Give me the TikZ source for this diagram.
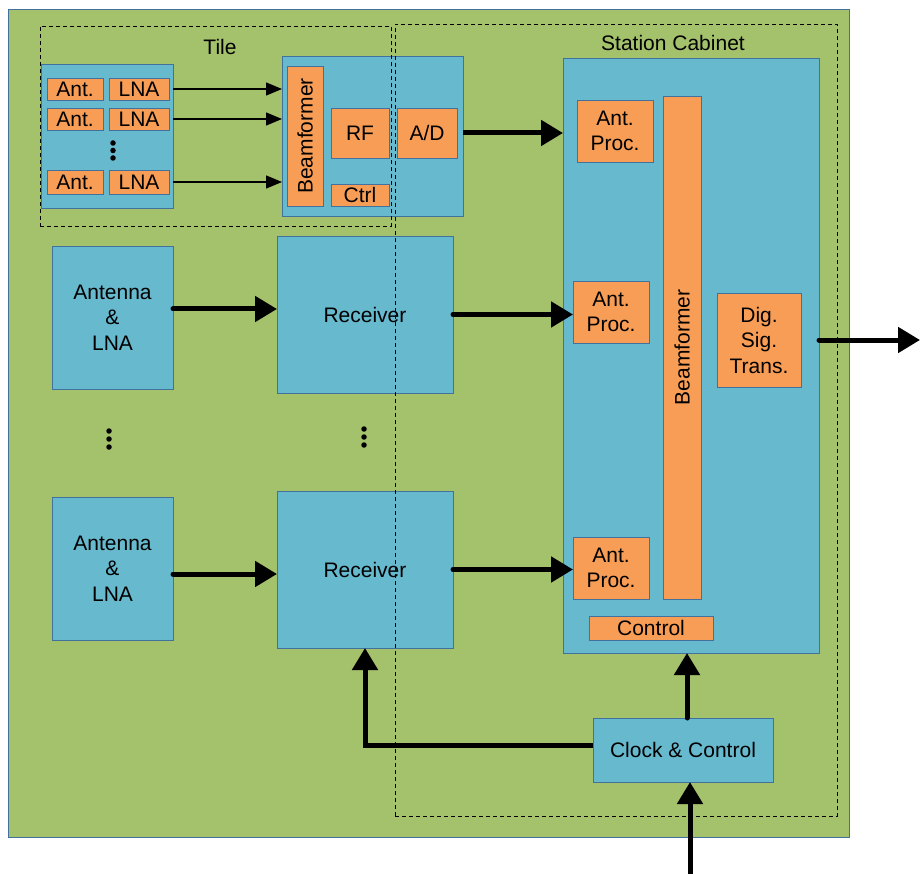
\documentclass[tikz,border=0pt]{standalone}
\usepackage{fontspec}
\setmainfont{Liberation Sans}
\usetikzlibrary{arrows.meta}
\definecolor{bggreen}{HTML}{A4C16C}
\definecolor{boxblue}{HTML}{67B9CE}
\definecolor{boxorange}{HTML}{F89D55}
\definecolor{edgeblue}{HTML}{41719C}
\tikzset{
  base/.style={draw=edgeblue, line width=0.9pt, inner sep=0pt, outer sep=0pt,
    align=center, font=\fontsize{21}{25.5}\selectfont, text=black},
  bluebox/.style={base, fill=boxblue},
  orangebox/.style={base, fill=boxorange},
  greenbox/.style={base, fill=bggreen},
  dashbox/.style={draw=black, line width=0.9pt, dash pattern=on 4pt off 3pt, inner sep=0pt, outer sep=0pt},
  label/.style={font=\fontsize{21}{25.5}\selectfont, inner sep=0pt},
  thinarrow/.style={draw=black, line width=1.3pt, -{Triangle[length=16pt, width=13pt]}},
  thickarrow/.style={draw=black, line width=5pt, line cap=round, -{Triangle[length=22pt, width=25pt]}},
  dotmark/.style={fill=black, circle, inner sep=0pt, minimum size=5.5pt}
}
\begin{document}
\begin{tikzpicture}[x=1pt, y=-1pt]
\useasboundingbox (0,0) rectangle (920,874);

% outer area
\node[greenbox, minimum width=841, minimum height=828] (outer) at (428.5,423) {};

% Tile contents
\node[bluebox, minimum width=132, minimum height=144] (tilearr) at (107,136) {};
\node[orangebox, minimum width=56, minimum height=22] (ant1) at (75,89) {Ant.};
\node[orangebox, minimum width=60, minimum height=22] (lna1) at (139,89) {LNA};
\node[orangebox, minimum width=56, minimum height=22] (ant2) at (75,119) {Ant.};
\node[orangebox, minimum width=60, minimum height=22] (lna2) at (139,119) {LNA};
\node[orangebox, minimum width=56, minimum height=24] (ant3) at (75,182) {Ant.};
\node[orangebox, minimum width=60, minimum height=24] (lna3) at (139,182) {LNA};
\node[dotmark] (td1) at (113,143) {};
\node[dotmark] (td2) at (113,150.5) {};
\node[dotmark] (td3) at (113,158) {};

\node[bluebox, minimum width=181, minimum height=160] (tbf) at (372.5,136) {};
\node[orangebox, minimum width=140, minimum height=36, rotate=90] (tbeam) at (305,136) {Beamformer};
\node[orangebox, minimum width=58, minimum height=50] (rf) at (360,133) {RF};
\node[orangebox, minimum width=60, minimum height=50] (ad) at (427,133) {A/D};
\node[orangebox, minimum width=58, minimum height=22] (ctrl) at (360,195) {Ctrl};

% Station box
\node[bluebox, minimum width=256, minimum height=595] (station) at (691,355.5) {};
\node[orangebox, minimum width=76, minimum height=62] (ap1) at (615,131) {Ant.\\Proc.};
\node[orangebox, minimum width=76, minimum height=62] (ap2) at (611,312) {Ant.\\Proc.};
\node[orangebox, minimum width=76, minimum height=62] (ap3) at (611,568) {Ant.\\Proc.};
\node[orangebox, minimum width=503, minimum height=38, rotate=90] (sbeam) at (682,347.5) {Beamformer};
\node[orangebox, minimum width=84, minimum height=94] (dst) at (759,340) {Dig.\\Sig.\\Trans.};
\node[orangebox, minimum width=124, minimum height=24] (sctrl) at (651,628) {Control};

% Antennas and receivers
\node[bluebox, minimum width=121, minimum height=143] (ann1) at (112.5,317.5) {Antenna\\\&\\LNA};
\node[bluebox, minimum width=121, minimum height=143] (ann2) at (112.5,568.5) {Antenna\\\&\\LNA};
\node[bluebox, minimum width=176, minimum height=157] (rec1) at (365,314.5) {Receiver};
\node[bluebox, minimum width=176, minimum height=157] (rec2) at (365,569.5) {Receiver};
\node[dotmark] (ld1) at (109,431) {};
\node[dotmark] (ld2) at (109,439) {};
\node[dotmark] (ld3) at (109,447) {};
\node[dotmark] (md1) at (364,429) {};
\node[dotmark] (md2) at (364,437) {};
\node[dotmark] (md3) at (364,445) {};

% Clock & Control
\node[bluebox, minimum width=180, minimum height=64] (clock) at (683,750) {Clock \& Control};

% dashed groups and labels
\node[dashbox, minimum width=351, minimum height=200] (tile) at (215.5,126) {};
\node[dashbox, minimum width=442, minimum height=792] (cabinet) at (616,420) {};
\node[label] (tilelabel) at (220,47) {Tile};
\node[label] (cablabel) at (673,43) {Station Cabinet};

% thin arrows in the tile
\draw[thinarrow] (tilearr.east |- lna1) -- (tbf.west |- lna1);
\draw[thinarrow] (tilearr.east |- lna2) -- (tbf.west |- lna2);
\draw[thinarrow] (tilearr.east |- lna3) -- (tbf.west |- lna3);

% thick arrows
\draw[thickarrow, line cap=butt] (tbf.east |- ad) -- (station.west |- ad);
\coordinate (a1) at ([yshift=8.5pt]ann1.east);
\coordinate (a2) at ([yshift=-5.5pt]ann2.east);
\draw[thickarrow] (a1) -- (rec1.west |- a1);
\draw[thickarrow] (a2) -- (rec2.west |- a2);
\draw[thickarrow] (rec1.east) -- (ap2.west |- rec1.east);
\draw[thickarrow] (rec2.east) -- (ap3.west |- rec2.east);
\coordinate (outend) at (920,340);
\draw[thickarrow] (station.east |- dst) -- (outend);
\coordinate (c1) at ([xshift=4pt]clock.north);
\draw[thickarrow] (c1) -- (station.south -| c1);
\coordinate (c2) at ([yshift=5pt]clock.west);
\draw[thickarrow, line cap=butt] (c2) -| (rec2.south);
\coordinate (inp) at (690,874);
\draw[thickarrow, line cap=butt] (inp) -- (inp |- clock.south);
\end{tikzpicture}
\end{document}
